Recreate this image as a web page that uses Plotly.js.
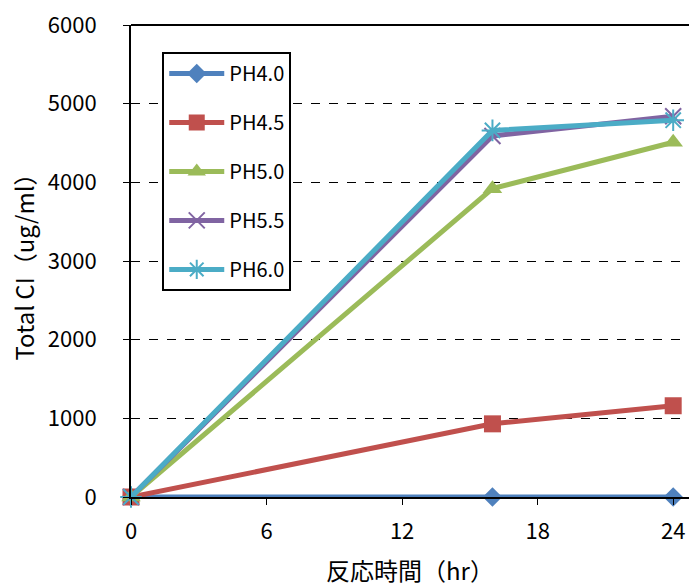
<!DOCTYPE html>
<html><head><meta charset="utf-8">
<script src="https://cdn.plot.ly/plotly-3.0.1.min.js"></script>
<style>body{margin:0;background:#fff}#c{width:689px;height:587px}</style>
</head><body><div id="c"></div>
<script>
const hours = [0, 16, 24];
const seriesNames = ["PH4.0", "PH4.5", "PH5.0", "PH5.5", "PH6.0"];
const ph40 = [0, 0, 0];
const ph45 = [0, 930, 1160];
const ph50 = [0, 3920, 4510];
const ph55 = [0, 4590, 4840];
const ph60 = [0, 4660, 4790];
const xTicks = [0, 6, 12, 18, 24];
const yTicks = [0, 1000, 2000, 3000, 4000, 5000, 6000];

const colors = ["#4F81BD", "#C0504D", "#9BBB59", "#8064A2", "#4BACC6"];
const symbols = ["diamond", "square", "triangle-up", "x-thin-open", "asterisk-open"];
const sizes = [15, 17, 17, 16, 18];
const vals = [ph40, ph45, ph50, ph55, ph60];

const traces = vals.map((v, i) => ({
  x: hours, y: v, name: seriesNames[i], type: "scatter", mode: "lines+markers",
  legendgroup: "g" + i,
  line: {color: colors[i], width: 5},
  marker: {symbol: symbols[i], size: sizes[i], color: colors[i],
           line: {color: colors[i], width: (i >= 3 ? 2 : 0)}},
  cliponaxis: false
}));

const font = "'Noto Sans CJK JP', 'Noto Sans', sans-serif";
const layout = {
  width: 689, height: 587,
  margin: {l: 131, r: 0, t: 25, b: 90},
  paper_bgcolor: "#fff", plot_bgcolor: "#fff",
  font: {family: font, size: 22, color: "#000"},
  showlegend: true,
  legend: {x: 0.056, y: 0.943, xanchor: "left", yanchor: "top",
           bordercolor: "#000", borderwidth: 2, bgcolor: "#fff",
           font: {size: 20}, tracegroupgap: 20, itemwidth: 55},
  xaxis: {range: [0, 24.7], tickvals: xTicks, ticktext: xTicks.map(String),
          showgrid: false, zeroline: false, showline: true, linecolor: "#000", linewidth: 2,
          ticks: "outside", ticklen: 6, tickwidth: 1, tickcolor: "#000",
          ticklabelstandoff: 8,
          title: {text: "反応時間（hr）", font: {size: 24}, standoff: 22}},
  yaxis: {range: [0, 6000], tickvals: yTicks, ticktext: yTicks.map(String),
          showgrid: true, gridcolor: "#000", griddash: "dash", gridwidth: 1.3,
          zeroline: false, showline: true, linecolor: "#000", linewidth: 2,
          ticks: "outside", ticklen: 6, tickwidth: 1, tickcolor: "#000",
          ticklabelstandoff: 22,
          title: {text: "Total CI（ug/ml）", font: {size: 24}, standoff: 6}},
  shapes: [{type: "line", xref: "paper", yref: "paper", x0: 0, x1: 1, y0: 1, y1: 1,
            line: {color: "#000", width: 2}, layer: "below"}]
};
Plotly.newPlot("c", traces, layout, {displayModeBar: false});
</script></body></html>
